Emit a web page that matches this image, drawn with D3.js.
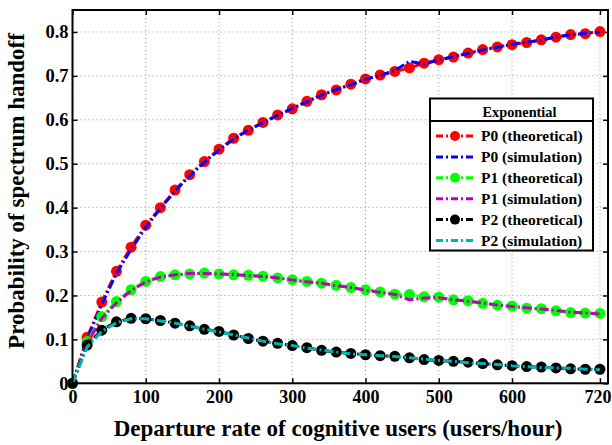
<!DOCTYPE html>
<html><head><meta charset="utf-8">
<script src="https://cdn.jsdelivr.net/npm/d3@7"></script>
<style>
body{margin:0;background:#fff;}
svg text{font-family:"Liberation Serif","Times New Roman",serif;font-weight:bold;fill:#000;}
</style></head><body>
<svg id="chart" width="612" height="445"></svg>
<script>
const xValues = [0,20,40,60,80,100,120,140,160,180,200,220,240,260,280,300,320,340,360,380,400,420,440,460,480,500,520,540,560,580,600,620,640,660,680,700,720];
const p0Theory = [0,0.105,0.185,0.255,0.31,0.36,0.40,0.44,0.475,0.505,0.533,0.558,0.576,0.594,0.611,0.625,0.642,0.657,0.668,0.681,0.693,0.702,0.71,0.718,0.729,0.737,0.743,0.752,0.76,0.766,0.771,0.776,0.782,0.788,0.794,0.796,0.801];
const p0Sim    = [0,0.10,0.18,0.25,0.305,0.355,0.398,0.438,0.472,0.503,0.531,0.556,0.577,0.593,0.61,0.626,0.641,0.656,0.669,0.68,0.692,0.701,0.712,0.733,0.727,0.736,0.744,0.751,0.759,0.765,0.772,0.777,0.781,0.789,0.793,0.797,0.800];
const p1Theory = [0,0.095,0.152,0.186,0.213,0.232,0.243,0.247,0.249,0.251,0.249,0.247,0.246,0.244,0.24,0.236,0.232,0.228,0.223,0.218,0.213,0.208,0.203,0.202,0.197,0.196,0.19,0.188,0.182,0.178,0.176,0.171,0.17,0.165,0.161,0.16,0.159];
const p1Sim    = [0,0.09,0.148,0.183,0.211,0.231,0.242,0.247,0.25,0.25,0.249,0.248,0.245,0.243,0.24,0.235,0.231,0.228,0.222,0.218,0.212,0.207,0.202,0.19,0.194,0.195,0.19,0.187,0.183,0.178,0.175,0.172,0.169,0.166,0.162,0.16,0.158];
const p2Theory = [0,0.087,0.121,0.14,0.148,0.147,0.143,0.137,0.131,0.123,0.118,0.11,0.102,0.096,0.091,0.086,0.081,0.075,0.071,0.068,0.065,0.063,0.0615,0.058,0.054,0.052,0.05,0.048,0.045,0.042,0.04,0.038,0.037,0.035,0.033,0.032,0.032];
const p2Sim    = [0,0.083,0.118,0.138,0.147,0.147,0.142,0.137,0.13,0.123,0.117,0.11,0.103,0.096,0.09,0.086,0.08,0.076,0.071,0.067,0.065,0.063,0.061,0.058,0.055,0.052,0.05,0.047,0.045,0.043,0.04,0.038,0.036,0.035,0.034,0.032,0.031];
const xTicks = [0,100,200,300,400,500,600,720];
const yTicks = [0,0.1,0.2,0.3,0.4,0.5,0.6,0.7,0.8];
const seriesNames = ["P0 (theoretical)","P0 (simulation)","P1 (theoretical)","P1 (simulation)","P2 (theoretical)","P2 (simulation)"];
const seriesColors = ["#ff0000","#0000ff","#00ff00","#c000c0","#000000","#00b4b4"];
const seriesMarkers = [true,false,true,false,true,false];
const seriesData = [p0Theory,p0Sim,p1Theory,p1Sim,p2Theory,p2Sim];
const legendTitle = "Exponential";
const xTitle = "Departure rate of cognitive users (users/hour)";
const yTitle = "Probability of spectrum handoff";

const L=72.5, R=608, T=10, B=383.3;
const svg = d3.select("#chart");
const x = d3.scaleLinear().domain([0,731]).range([L,R]);
const y = d3.scaleLinear().domain([0,0.85]).range([B,T]);

// grid
const grid = svg.append("g").attr("stroke","#9a9a9a").attr("stroke-width",1).attr("stroke-dasharray","1,3");
xTicks.filter(d=>d>0).forEach(d=>grid.append("line").attr("x1",x(d)).attr("x2",x(d)).attr("y1",T).attr("y2",B));
yTicks.filter(d=>d>0).forEach(d=>grid.append("line").attr("x1",L).attr("x2",R).attr("y1",y(d)).attr("y2",y(d)));

// axes with inward ticks
const fmtY = d => d===0 ? "0" : d3.format(".1f")(d);
const xAxisB = d3.axisBottom(x).tickValues(xTicks).tickSizeInner(-5).tickSizeOuter(0).tickPadding(7).tickFormat(d3.format("d"));
const gx = svg.append("g").attr("transform",`translate(0,${B})`).call(xAxisB);
gx.selectAll("text").style("font-size","18px");
// keep the last label inside the picture
gx.selectAll(".tick").filter(d=>d===720).select("text").attr("text-anchor","end").attr("x", 611 - x(720));
const yAxisL = d3.axisLeft(y).tickValues(yTicks).tickSizeInner(-5).tickSizeOuter(0).tickPadding(4).tickFormat(fmtY);
const gy = svg.append("g").attr("transform",`translate(${L},0)`).call(yAxisL);
gy.selectAll("text").style("font-size","18.5px");
const gxT = svg.append("g").attr("transform",`translate(0,${T})`).call(d3.axisTop(x).tickValues(xTicks).tickSizeInner(-5).tickSizeOuter(0).tickFormat(""));
const gyR = svg.append("g").attr("transform",`translate(${R},0)`).call(d3.axisRight(y).tickValues(yTicks).tickSizeInner(-5).tickSizeOuter(0).tickFormat(""));
[gx,gy,gxT,gyR].forEach(g=>{g.select(".domain").remove(); g.selectAll(".tick line").attr("stroke","#000").attr("stroke-width",1.5);});

// series
const line = d3.line().x((d,i)=>x(xValues[i])).y(d=>y(d));
const dash = "9,3,2,3";
seriesData.forEach((data,k)=>{
  const g = svg.append("g");
  g.append("path").datum(data).attr("d",line).attr("fill","none")
    .attr("stroke",seriesColors[k]).attr("stroke-width",3).attr("stroke-dasharray",dash);
  if(seriesMarkers[k]){
    g.selectAll("circle").data(data).join("circle")
      .attr("cx",(d,i)=>x(xValues[i])).attr("cy",d=>y(d)).attr("r",5.5)
      .attr("fill",seriesColors[k]);
  }
});

// frame
svg.append("rect").attr("x",L).attr("y",T).attr("width",R-L).attr("height",B-T)
  .attr("fill","none").attr("stroke","#000").attr("stroke-width",2);

// titles
svg.append("text").attr("x",338).attr("y",435.5).attr("text-anchor","middle").style("font-size","23px").text(xTitle);
svg.append("text").attr("transform","translate(23.5,191) rotate(-90)").attr("text-anchor","middle").style("font-size","23px").text(yTitle);

// legend
const lg = svg.append("g");
const lx=430, ly=98.5, lw=163, lh=152;
lg.append("rect").attr("x",lx).attr("y",ly).attr("width",lw).attr("height",lh).attr("fill","#fff").attr("stroke","#000").attr("stroke-width",2);
lg.append("line").attr("x1",lx).attr("x2",lx+lw).attr("y1",121).attr("y2",121).attr("stroke","#000").attr("stroke-width",2);
lg.append("text").attr("x",lx+lw/2+8).attr("y",116.5).attr("text-anchor","middle").style("font-size","14.3px").text(legendTitle);
seriesNames.forEach((name,k)=>{
  const yy = 136 + k*20.9;
  lg.append("line").attr("x1",436).attr("x2",473).attr("y1",yy).attr("y2",yy)
    .attr("stroke",seriesColors[k]).attr("stroke-width",3).attr("stroke-dasharray","7,3,2,3");
  if(seriesMarkers[k]) lg.append("circle").attr("cx",455).attr("cy",yy).attr("r",5).attr("fill",seriesColors[k]);
  lg.append("text").attr("x",481).attr("y",yy+5).style("font-size","15.5px").text(name);
});
</script>
</body></html>
